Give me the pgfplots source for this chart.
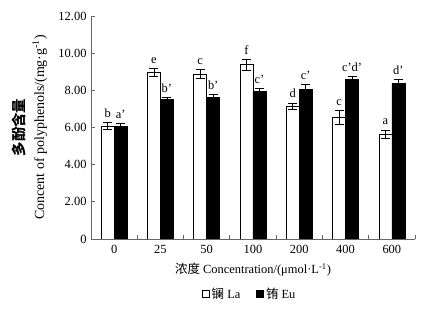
\documentclass[border=0pt]{standalone}
\usepackage{pgfplots}
\pgfplotsset{compat=1.18}
\usepackage{fontspec}
\setmainfont{Liberation Serif}
\newfontfamily\cjk{Noto Sans CJK SC}
\begin{document}
\begin{tikzpicture}
\useasboundingbox (-91bp,-71bp) rectangle (345bp,239bp);
\begin{axis}[
  at={(0,0)}, anchor=south west,
  scale only axis, width=324bp, height=223bp,
  ybar=0pt, bar width=0.28,
  xmin=-0.5, xmax=6.5, ymin=0, ymax=12,
  xtick={0,...,6}, xticklabels={0,25,50,100,200,400,600},
  minor xtick={-0.5,0.5,...,6.5},
  ytick={0,2,...,12}, yticklabels={0,2.00,4.00,6.00,8.00,10.00,12.00},
  axis x line*=bottom, axis y line*=left,
  axis line style={gray!80!black, line width=0.8pt, -},
  tick align=inside,
  major tick length=4bp, minor tick length=4bp,
  major x tick style={draw=none},
  minor x tick style={gray!80!black, line width=0.8pt},
  major y tick style={gray!80!black, line width=0.8pt},
  tick label style={font=\fontsize{12.5}{14}\selectfont},
  /pgf/number format/assume math mode=true,
  xticklabel style={yshift=-3bp},
  yticklabel style={xshift=-1bp},
  xlabel={{\cjk 浓度} Concentration/(μmol·L\textsuperscript{-1})},
  xlabel style={font=\fontsize{12.5}{14}\selectfont, at={(axis description cs:0.5,-0.139)}, anchor=center},
  ylabel={{\cjk\bfseries\fontsize{14.5}{20}\selectfont 多酚含量}\\Concent of polyphenols/(mg·g\textsuperscript{-1})},
  ylabel style={font=\fontsize{14}{20}\selectfont, align=center, at={(axis description cs:-0.19,0.5)}, anchor=center},
  legend style={at={(0.49,-0.247)}, anchor=center, draw=none, legend columns=2, font=\fontsize{12.5}{14}\selectfont, /tikz/every even column/.append style={column sep=14bp}},
  legend image code/.code={\draw[#1, draw=black, line width=0.6pt] (0bp,-3.5bp) rectangle (7bp,3.5bp);},
  error bars/y dir=both, error bars/y explicit,
  error bars/error mark options={rotate=90, mark size=4.5bp, line width=0.8pt},
  error bars/error bar style={line width=0.8pt},
]
\addplot[fill=white, draw=black, line width=0.6pt, bar shift=-0.14] coordinates {
 (0,6.08) +- (0,0.17)
 (1,8.95) +- (0,0.22)
 (2,8.88) +- (0,0.22)
 (3,9.38) +- (0,0.30)
 (4,7.15) +- (0,0.17)
 (5,6.55) +- (0,0.38)
 (6,5.65) +- (0,0.22)
};
\addlegendentry{{\cjk 镧} La}
\addplot[fill=black, draw=black, line width=0.6pt, bar shift=0.14] coordinates {
 (0,6.07) +- (0,0.15)
 (1,7.52) +- (0,0.10)
 (2,7.62) +- (0,0.17)
 (3,7.93) +- (0,0.17)
 (4,8.05) +- (0,0.25)
 (5,8.57) +- (0,0.17)
 (6,8.38) +- (0,0.20)
};
\addlegendentry{{\cjk 铕} Eu}
\begin{scope}[every node/.style={anchor=base, yshift=5bp, inner sep=0pt, font=\fontsize{12.5}{14}\selectfont}]
\node at (axis cs:-0.14,6.25) {b};
\node at (axis cs:0.14,6.22) {a’};
\node at (axis cs:0.86,9.17) {e};
\node at (axis cs:1.14,7.62) {b’};
\node at (axis cs:1.86,9.10) {c};
\node at (axis cs:2.14,7.79) {b’};
\node at (axis cs:2.86,9.68) {f};
\node at (axis cs:3.14,8.10) {c’};
\node at (axis cs:3.86,7.32) {d};
\node at (axis cs:4.14,8.30) {c’};
\node at (axis cs:4.86,6.93) {c};
\node at (axis cs:5.14,8.74) {c’d’};
\node at (axis cs:5.86,5.87) {a};
\node at (axis cs:6.14,8.58) {d’};
\end{scope}
\end{axis}
\end{tikzpicture}
\end{document}
